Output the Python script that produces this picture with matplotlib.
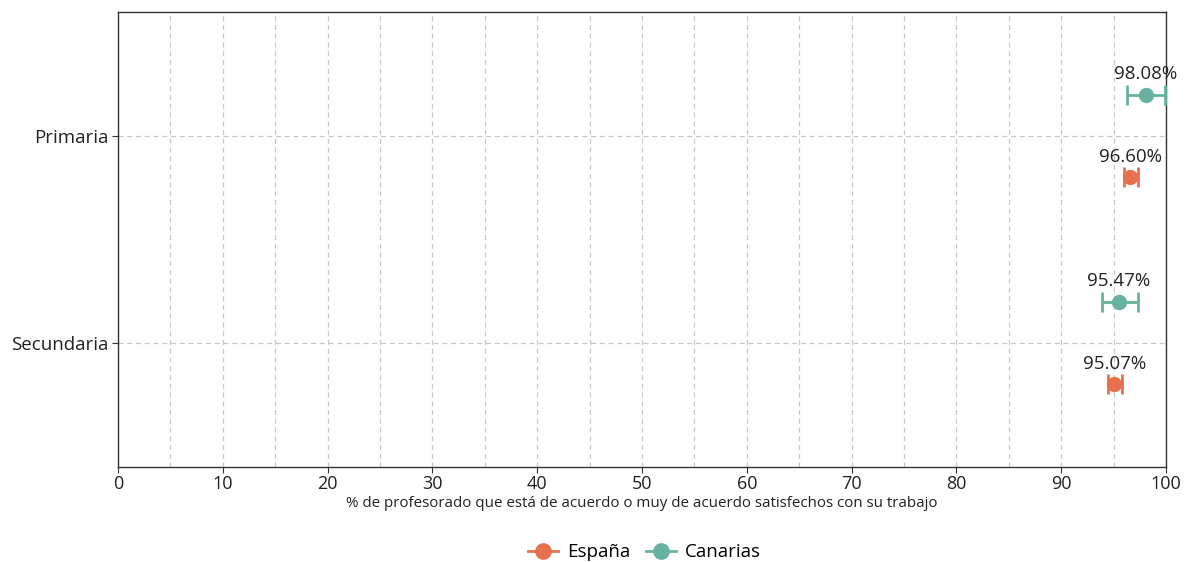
import matplotlib.pyplot as plt
from matplotlib.ticker import MultipleLocator
from matplotlib.lines import Line2D

categories = ["Primaria", "Secundaria"]
series = ["España", "Canarias"]
values = {
    "España": [96.60, 95.07],
    "Canarias": [98.08, 95.47],
}
lower = {
    "España": [96.0, 94.5],
    "Canarias": [96.25, 93.9],
}
upper = {
    "España": [97.3, 95.8],
    "Canarias": [99.9, 97.3],
}
colors = {"España": "#E7704F", "Canarias": "#66B2A0"}
offsets = {"España": -0.2, "Canarias": 0.2}

plt.rcParams["font.family"] = ["Open Sans", "DejaVu Sans"]
fig = plt.figure(figsize=(11.89, 5.62), dpi=100)
ax = fig.add_axes([0.0992, 0.169, 0.8815, 0.8096])

ypos = [1, 0]
for s in series:
    ys = [y + offsets[s] for y in ypos]
    xerr = [[v - lo for v, lo in zip(values[s], lower[s])],
            [hi - v for v, hi in zip(values[s], upper[s])]]
    ax.errorbar(values[s], ys, xerr=xerr, fmt="o", color=colors[s],
                markersize=10, elinewidth=2, capsize=7.5, capthick=2,
                zorder=3)
    for v, y in zip(values[s], ys):
        ax.text(v, y + 0.1, f"{v:.2f}%", ha="center", va="center",
                fontsize=13.5, color="#222222")

ax.set_xlim(0, 100)
ax.set_ylim(-0.6, 1.6)
ax.set_yticks(ypos)
ax.set_yticklabels(categories, fontsize=13.5, color="#222222")
ax.xaxis.set_major_locator(MultipleLocator(10))
ax.xaxis.set_minor_locator(MultipleLocator(5))
ax.tick_params(axis="x", which="major", labelsize=13, labelcolor="#222222",
               length=4, color="#333333", pad=2)
ax.tick_params(axis="x", which="minor", length=0)
ax.tick_params(axis="y", length=4, color="#333333", pad=3)
ax.grid(True, which="both", axis="x", linestyle=(0, (4, 3)), color="#c8c8c8", lw=0.9)
ax.grid(True, which="major", axis="y", linestyle=(0, (4, 3)), color="#c8c8c8", lw=0.9)
ax.set_axisbelow(True)
for sp in ax.spines.values():
    sp.set_color("#333333")
    sp.set_linewidth(1)

ax.set_xlabel("% de profesorado que está de acuerdo o muy de acuerdo satisfechos con su trabajo",
              fontsize=10.9, color="#222222", labelpad=2)

handles = [Line2D([], [], color=colors[s], marker="o", markersize=11, lw=2) for s in series]
fig.legend(handles=handles, labels=series, loc="center", bbox_to_anchor=(0.542, 0.017),
           ncol=2, frameon=False, fontsize=13.5, handlelength=1.6, columnspacing=0.8,
           handletextpad=0.5)

fig.savefig("out.png", dpi=100)
